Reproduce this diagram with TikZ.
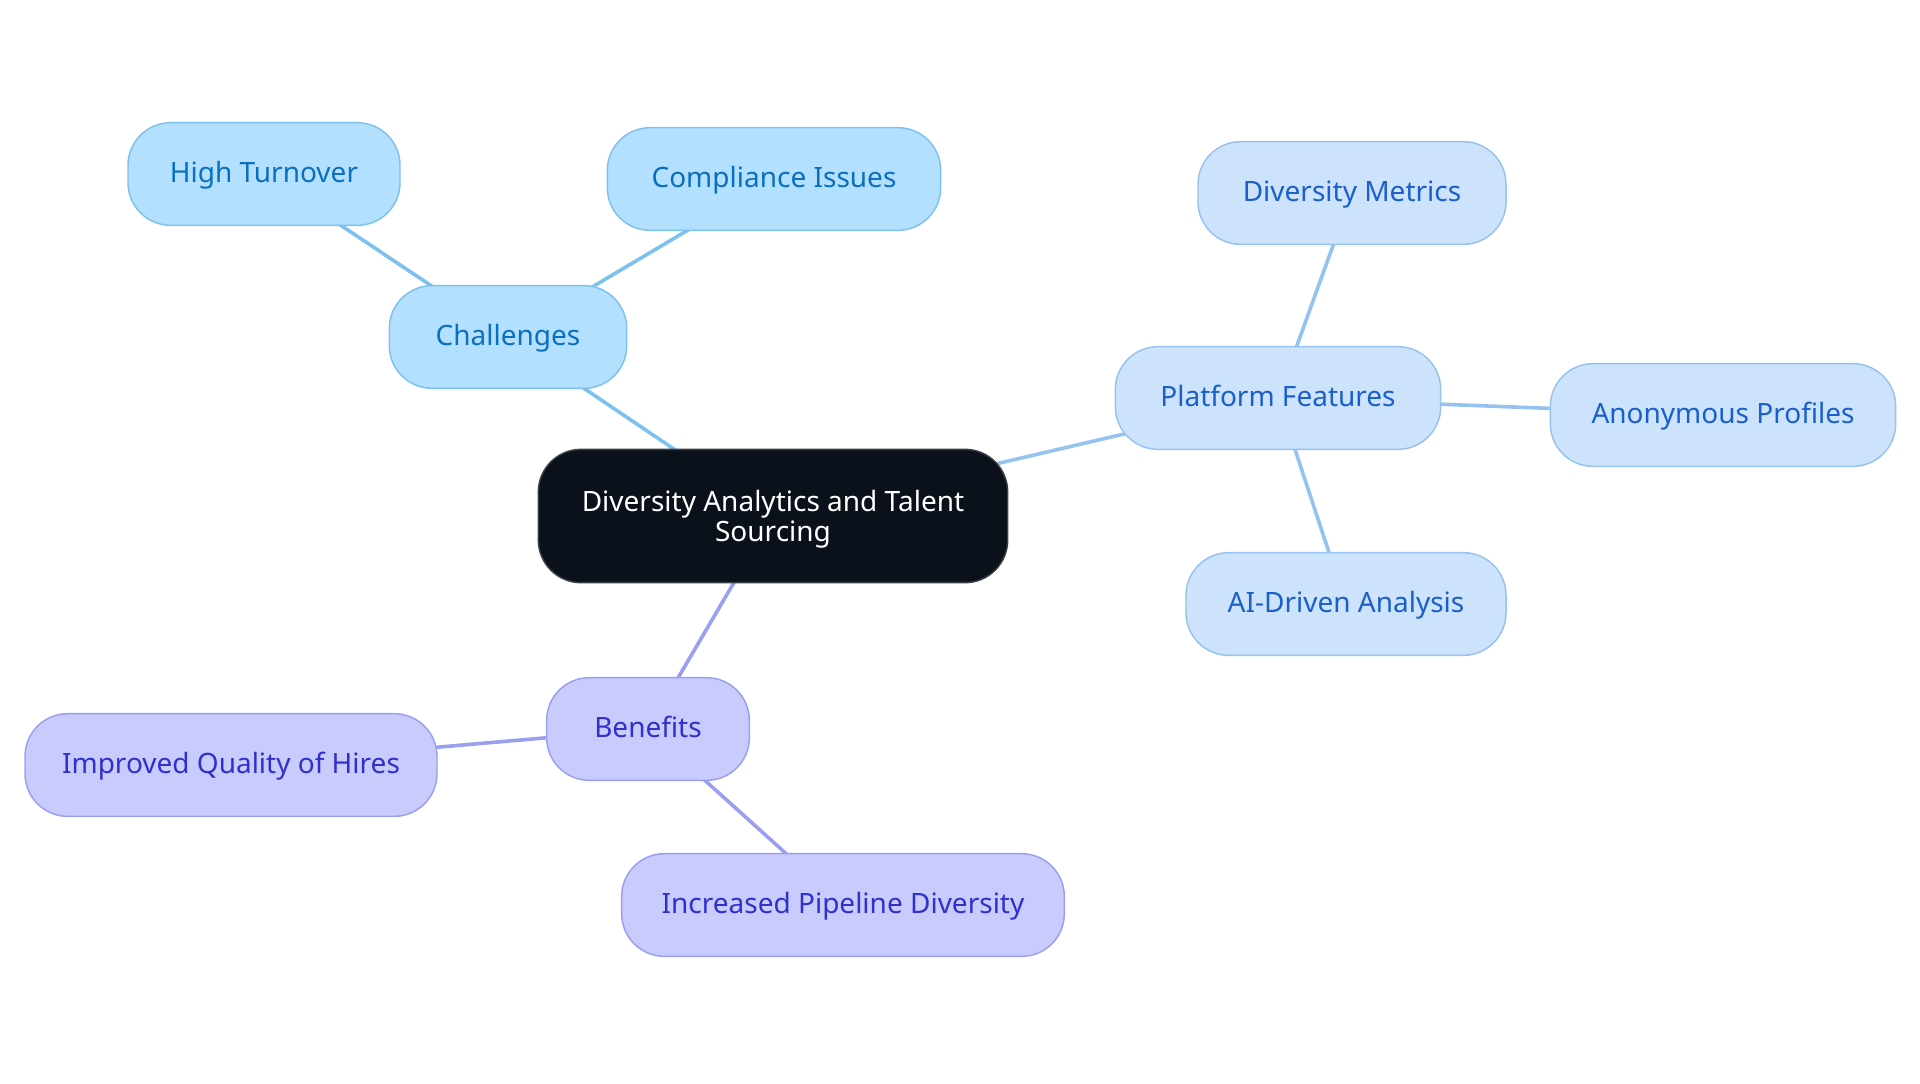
\documentclass[tikz,border=0pt]{standalone}
\usepackage{fontspec}
\setmainfont{Noto Sans}
\usetikzlibrary{backgrounds}
\definecolor{chalfill}{HTML}{B3E0FF}
\definecolor{challine}{HTML}{7DC1EE}
\definecolor{chaltext}{HTML}{0B6FC0}
\definecolor{featfill}{HTML}{CDE3FB}
\definecolor{featline}{HTML}{95C2F0}
\definecolor{feattext}{HTML}{1A5FCC}
\definecolor{benefill}{HTML}{C8CBFC}
\definecolor{beneline}{HTML}{9A9FF0}
\definecolor{benetext}{HTML}{3030CC}
\definecolor{rootfill}{HTML}{0B111A}
\begin{document}
\begin{tikzpicture}[x=0.75pt,y=-0.75pt,
  pill/.style={draw,line width=1.1pt,rounded corners=32pt,minimum height=77pt,
    inner xsep=2pt,align=center,font=\fontsize{21}{23}\selectfont},
  leaf/.style={pill,text height=15pt,text depth=2pt},
  chal/.style={leaf,fill=chalfill,draw=challine,text=chaltext},
  feat/.style={leaf,fill=featfill,draw=featline,text=feattext},
  bene/.style={leaf,fill=benefill,draw=beneline,text=benetext},
  link/.style={line width=2.7pt}]
\useasboundingbox (0,0) rectangle (1920,1083);
% root
\node[pill,fill=rootfill,draw=rootfill!80!white,text=white,text depth=0pt,
  minimum width=352pt,minimum height=100pt]
  (root) at (773,516) {Diversity Analytics and Talent\\Sourcing};
% challenges
\node[chal,minimum width=178pt] (chal) at (508,337) {Challenges};
\node[chal,minimum width=204pt] (turn) at (264,174) {High Turnover};
\node[chal,minimum width=250pt] (comp) at (774,179) {Compliance Issues};
% platform features
\node[feat,minimum width=244pt] (feat) at (1278,398) {Platform Features};
\node[feat,minimum width=231pt] (metr) at (1352,193) {Diversity Metrics};
\node[feat,minimum width=259pt] (anon) at (1723,415) {Anonymous Profiles};
\node[feat,minimum width=240pt] (aidr) at (1346,604) {AI-Driven Analysis};
% benefits
\node[bene,minimum width=152pt] (bene) at (648,729) {Benefits};
\node[bene,minimum width=309pt] (qual) at (231,765) {Improved Quality of Hires};
\node[bene,minimum width=332pt] (pipe) at (843,905) {Increased Pipeline Diversity};
\begin{scope}[on background layer]
\draw[link,challine] (root.center)--(chal.center) (chal.center)--(turn.center) (chal.center)--(comp.center);
\draw[link,featline] (root.center)--(feat.center) (feat.center)--(metr.center) (feat.center)--(anon.center) (feat.center)--(aidr.center);
\draw[link,beneline] (root.center)--(bene.center) (bene.center)--(qual.center) (bene.center)--(pipe.center);
\end{scope}
\end{tikzpicture}
\end{document}
